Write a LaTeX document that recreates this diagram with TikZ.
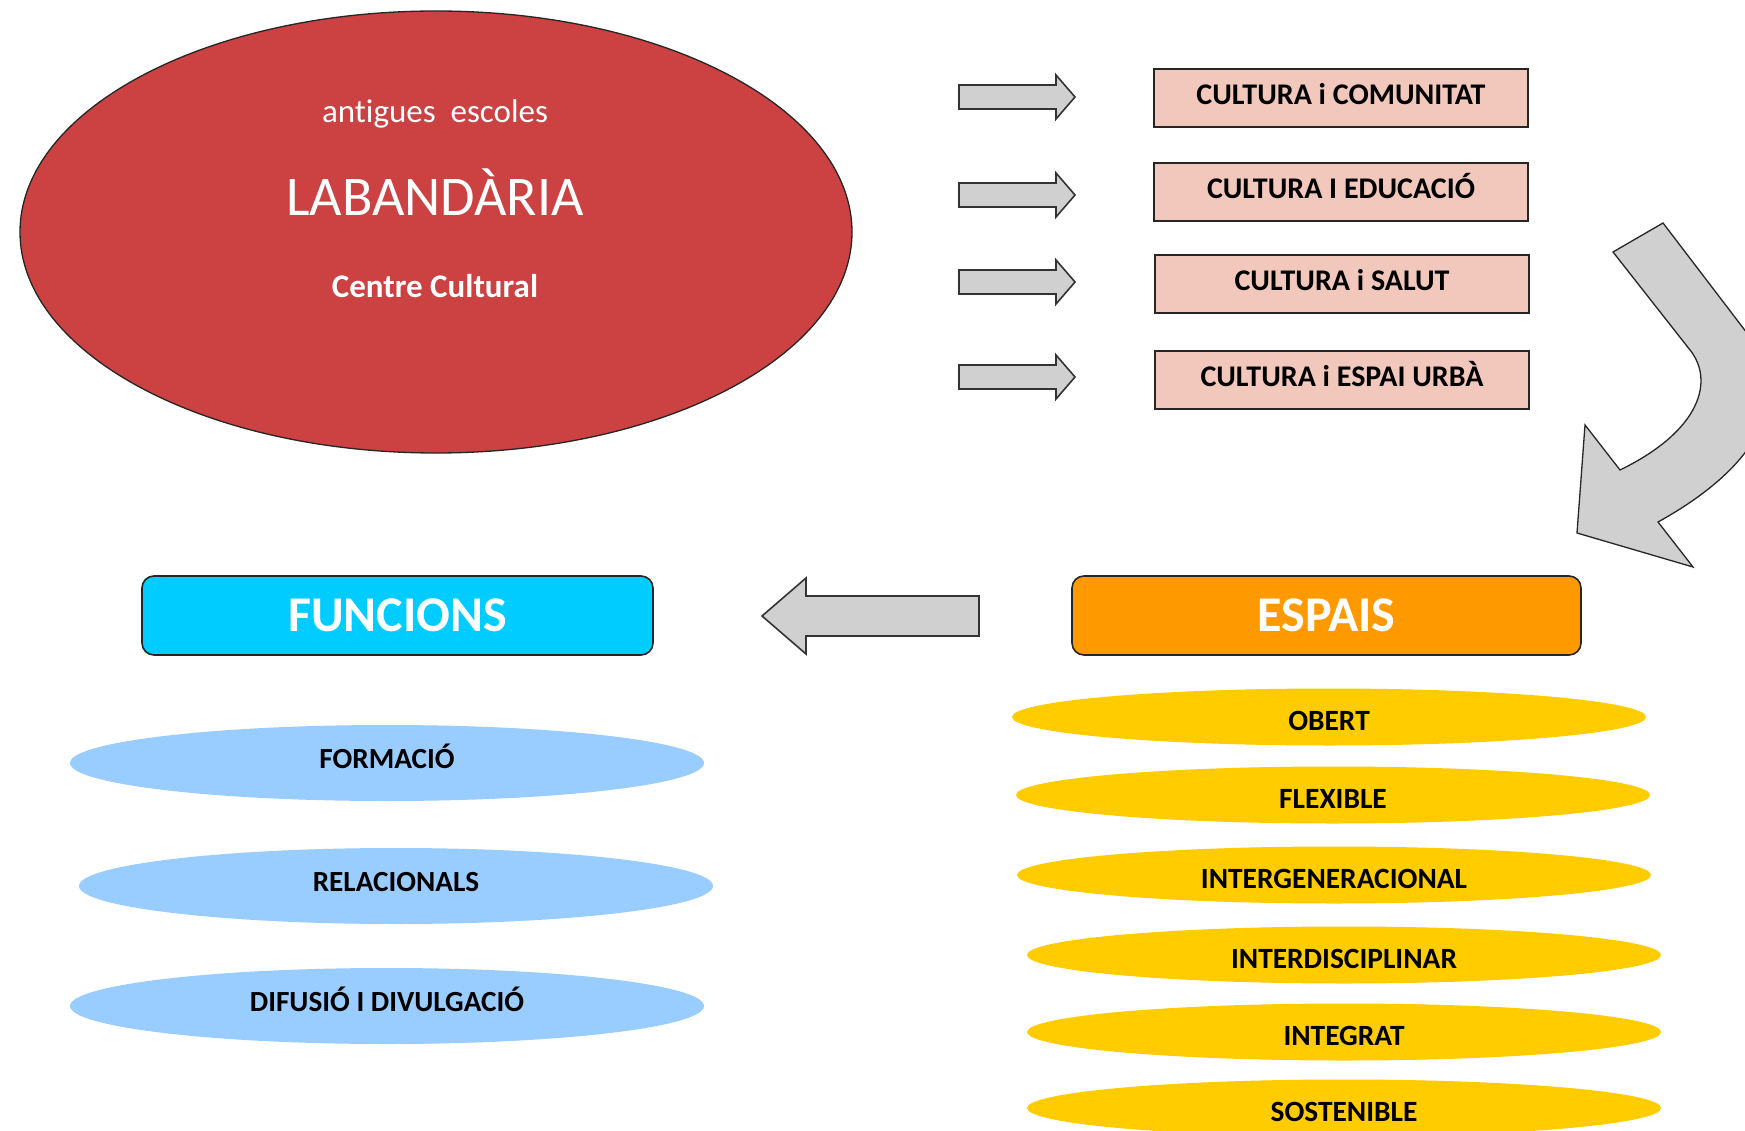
\documentclass[tikz,border=0pt]{standalone}
\usepackage{fontspec}
\setmainfont{Carlito}[Ligatures=NoCommon]
\usetikzlibrary{shapes.geometric}
\definecolor{redell}{HTML}{CC4141}
\definecolor{pinkbox}{HTML}{F2C8BC}
\definecolor{arrgray}{HTML}{D0D0D0}
\definecolor{cyanbox}{HTML}{00CCFF}
\definecolor{orangebox}{HTML}{FF9900}
\definecolor{blueell}{HTML}{99CCFF}
\definecolor{yellowell}{HTML}{FFCC00}
\begin{document}
\begin{tikzpicture}[x=1pt,y=-1pt,
  blockarrow/.style={draw=black!80, line width=1.6pt, fill=arrgray, line join=miter},
  curvearrow/.style={draw=black!85, line width=1.3pt, fill=arrgray, line join=miter},
  culturebox/.style={draw=black!85, line width=2pt, fill=pinkbox, minimum width=374pt,
    minimum height=58pt, inner sep=0pt, text height=19.3pt, text depth=6pt,
    font=\fontsize{30}{32}\selectfont\bfseries},
  headbox/.style={draw=black!85, line width=1.6pt, rounded corners=12pt, minimum height=79pt,
    inner sep=0pt, text=white, text height=32pt, text depth=0pt,
    font=\fontsize{50}{52}\selectfont\bfseries},
  blueellipse/.style={ellipse, fill=blueell, minimum width=634pt, minimum height=76pt,
    inner sep=0pt, text height=18.8pt, text depth=8pt, font=\fontsize{29.2}{31}\selectfont\bfseries},
  yellowellipse/.style={ellipse, fill=yellowell, minimum width=634pt, minimum height=57pt,
    inner sep=0pt, text height=26.5pt, text depth=0pt, font=\fontsize{29.4}{31}\selectfont\bfseries},
  whitetext/.style={text=white, inner sep=0pt}
]
\useasboundingbox (0,0) rectangle (1745,1131);
\fill[white] (0,0) rectangle (1745,1131);

% big ellipse
\node[ellipse, draw=black!85, line width=1.3pt, fill=redell, minimum width=832pt,
  minimum height=442pt, inner sep=0pt] (lab) at (436,232) {};
\node[whitetext, font=\fontsize{33}{35}\selectfont] (antig) at (435,114) {antigues\ \ escoles};
\node[whitetext, font=\fontsize{56}{58}\selectfont] (labtitle) at (435,192) {LABANDÀRIA};
\node[whitetext, font=\fontsize{33}{35}\selectfont\bfseries] (centre) at (435,286) {Centre Cultural};

% right arrows
\foreach \yy/\nm in {97/a1,195/a2,282/a3,377/a4}{
  \draw[blockarrow] (959,\yy-12) -- (1056,\yy-12) -- (1056,\yy-22) -- (1075,\yy)
    -- (1056,\yy+22) -- (1056,\yy+12) -- (959,\yy+12) -- cycle;
}

% culture boxes
\node[culturebox] (c1) at (1341,98) {CULTURA i COMUNITAT};
\node[culturebox] (c2) at (1341,192) {CULTURA I EDUCACIÓ};
\node[culturebox] (c3) at (1342,284) {CULTURA i SALUT};
\node[culturebox] (c4) at (1342,380) {CULTURA i ESPAI URBÀ};

% curved arrow
\begin{scope}
\clip (0,0) rectangle (1745,1131);
\draw[curvearrow] (1613,252) -- (1663,223) -- (1750,337)
  .. controls (1790,390) and (1770,460) .. (1658,522)
  -- (1693,567) -- (1577,533) -- (1585,425) -- (1620,470)
  .. controls (1702,430) and (1714,380) .. (1690,350) -- cycle;
\end{scope}

% head boxes
\node[headbox, fill=cyanbox, minimum width=511pt] (func) at (397.5,615.5) {FUNCIONS};
\node[headbox, fill=orangebox, minimum width=509pt] (esp) at (1326.5,615.5) {ESPAIS};

% left arrow
\draw[blockarrow] (979,596) -- (806,596) -- (806,578) -- (762,616) -- (806,654)
  -- (806,636) -- (979,636) -- cycle;

% blue ellipses
\node[blueellipse] (form) at (387,763) {FORMACIÓ};
\node[blueellipse] (rel) at (396,886) {RELACIONALS};
\node[blueellipse] (dif) at (387,1006) {DIFUSIÓ I DIVULGACIÓ};

% yellow ellipses
\node[yellowellipse] (obert) at (1329,717) {OBERT};
\node[yellowellipse] (flex) at (1333,795) {FLEXIBLE};
\node[yellowellipse] (intergen) at (1334,875) {INTERGENERACIONAL};
\node[yellowellipse] (interdisc) at (1344,955) {INTERDISCIPLINAR};
\node[yellowellipse] (integ) at (1344,1032) {INTEGRAT};
\node[yellowellipse] (sost) at (1344,1108) {SOSTENIBLE};
\end{tikzpicture}
\end{document}
